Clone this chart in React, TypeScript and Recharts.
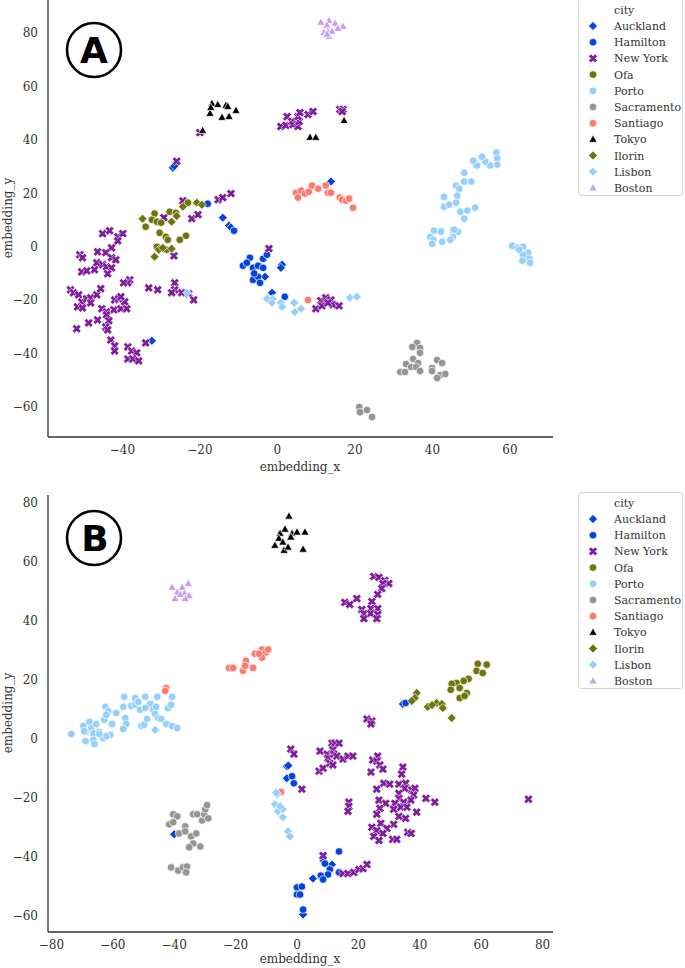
import React from 'react';
import { ScatterChart, Scatter, XAxis, YAxis } from 'recharts';

type P = [number, number];

// ---------------- Panel A data ----------------
const aucklandA: P[] = [[-27.0,29.6],[-26.6,30.2],[-14.1,10.9],[-12.5,7.9],[1.2,-6.7],[0.9,-7.9],[-1.4,-17.2],[-32.4,-35.2],[13.8,24.4],[-3.2,-11.2],[-12.0,7.2]];
const hamiltonA: P[] = [[-8.9,-7.1],[-7.1,-4.1],[-6.3,-7.9],[-5.0,-7.1],[-3.7,-7.9],[-3.7,-4.5],[-2.7,-3.0],[-6.3,-12.4],[-5.0,-11.2],[-4.5,-13.5],[-7.9,-6.0],[-11.2,6.0],[-18.0,16.1],[1.9,-18.7],[-6.0,-10.0]];
const newYorkA: P[] = [
  [0.9,45.0],[2.2,45.4],[2.5,48.7],[3.7,46.9],[4.0,45.7],[5.3,45.0],[5.6,46.9],[5.3,48.7],[5.8,50.2],[7.9,49.5],[9.2,50.6],[16.1,51.4],[16.9,51.4],[16.7,50.6],
  [-20.0,42.7],[-26.0,32.0],[-15.3,17.6],[-14.1,18.4],[-12.0,19.9],[-22.1,10.5],[-20.5,12.0],[-29.3,10.9],[-24.4,17.2],
  [-45.1,4.9],[-43.3,6.0],[-41.2,3.7],[-39.9,4.9],[-41.2,2.2],[-42.8,-0.4],[-46.4,-1.9],[-44.3,-2.2],[-51.0,-3.0],[-50.3,-4.1],[-42.8,-4.1],[-41.7,-4.9],[-46.6,-6.0],[-45.1,-6.7],[-44.1,-7.5],[-42.8,-7.9],[-47.2,-8.6],[-50.5,-9.4],[-49.2,-9.0],[-43.8,-10.1],
  [-53.4,-16.1],[-52.6,-17.2],[-51.3,-18.0],[-50.5,-20.6],[-49.2,-19.5],[-48.2,-19.1],[-48.2,-21.0],[-46.6,-18.0],[-45.6,-15.7],[-51.6,-22.5],[-50.3,-22.9],[-45.3,-23.2],[-44.1,-24.4],[-42.2,-23.6],[-40.4,-23.2],[-38.9,-23.2],[-44.1,-25.5],[-43.5,-27.7],[-42.0,-19.9],[-41.0,-19.5],[-39.4,-20.6],[-40.4,-18.7],[-38.1,-12.4],[-38.6,-13.5],[-39.7,-13.5],
  [-51.8,-30.7],[-48.7,-28.5],[-46.4,-27.4],[-44.3,-30.0],[-43.8,-31.1],[-43.0,-34.9],[-42.0,-37.1],[-42.0,-39.0],[-38.6,-37.5],[-37.6,-39.0],[-36.3,-39.7],[-38.6,-42.0],[-37.3,-42.0],[-35.8,-42.7],[-34.0,-36.0],
  [-33.2,-15.4],[-30.9,-16.1],[-26.5,-13.5],[-26.5,-16.1],[-27.3,-17.2],[-24.7,-17.2],[-22.9,-17.6],[-21.6,-19.9],[-26.7,-3.4],
  [-2.2,-0.7],
  [9.9,-23.2],[11.2,-20.2],[12.5,-19.1],[13.8,-19.9],[14.3,-21.7],[15.9,-22.1],[11.5,-22.1],[13.0,-21.0]
];
const ofaA: P[] = [[-31.7,12.4],[-27.8,13.1],[-26.2,12.7],[-34.0,7.5],[-32.4,10.1],[-31.1,9.4],[-30.4,5.2],[-28.8,3.7],[-23.1,16.5],[-23.6,4.1],[-28.3,2.6],[-25.2,2.6],[-31.1,0.0],[-28.6,-1.1],[-30.0,9.0]];
const portoA: P[] = [
  [56.5,35.3],[56.7,33.0],[56.7,30.7],[54.9,30.4],[53.6,31.9],[52.8,33.7],[51.0,31.5],[51.5,30.4],[50.5,32.2],[48.2,27.7],[48.2,24.4],[50.0,24.4],[46.1,22.9],[46.9,21.7],[46.4,19.1],[43.0,18.7],[43.0,15.0],[44.3,15.7],[46.1,16.5],[47.2,13.1],[49.0,13.5],[51.0,14.6],[48.2,10.5],
  [40.4,6.0],[42.2,6.0],[45.3,6.0],[46.6,5.6],[39.4,3.7],[40.2,2.6],[39.9,1.1],[42.2,5.6],[42.5,1.9],[45.3,3.7],[45.6,6.4],[44.6,2.6],
  [60.6,0.4],[61.9,-0.4],[63.4,0.0],[64.7,-2.2],[63.4,-3.0],[65.0,-4.5],[63.2,-5.2],[65.2,-6.0],[62.4,-1.1]
];
const sacramentoA: P[] = [[36.0,-36.0],[34.8,-37.5],[36.8,-37.9],[36.8,-39.7],[35.0,-42.0],[36.3,-43.5],[33.2,-43.9],[34.5,-45.0],[35.8,-45.0],[36.8,-46.5],[31.7,-46.9],[32.9,-46.9],[41.2,-42.4],[42.5,-43.5],[39.9,-45.4],[39.9,-46.5],[42.0,-48.0],[43.3,-47.6],[41.2,-49.1],[21.1,-60.0],[21.3,-61.9],[23.1,-61.1],[24.4,-63.7]];
const santiagoA: P[] = [[4.8,20.2],[5.3,18.4],[6.1,21.0],[7.1,19.9],[8.1,20.6],[8.9,22.9],[10.5,21.7],[12.5,22.9],[13.0,20.2],[13.8,20.2],[16.1,18.4],[16.7,17.6],[17.7,17.2],[18.5,18.0],[19.5,14.6],[7.9,-19.9]];
const tokyoA: P[] = [[-16.9,53.6],[-15.4,53.2],[-13.3,52.9],[-12.8,52.5],[-17.4,49.9],[-10.7,51.0],[-14.3,48.4],[-12.5,48.7],[-19.3,43.5],[-17.2,52.1],[8.4,40.9],[9.9,40.9],[17.2,47.2]];
const ilorinA: P[] = [[-34.8,10.5],[-27.3,9.4],[-24.4,15.0],[-20.8,16.5],[-19.5,15.7],[-27.3,-0.7],[-31.7,-3.7],[-30.6,-1.1],[-29.6,-0.4],[-26.0,11.5]];
const lisbonA: P[] = [[-2.7,-19.5],[-1.2,-19.5],[-1.4,-21.0],[0.9,-21.0],[1.2,-22.5],[4.3,-21.0],[4.5,-24.4],[6.1,-23.2],[18.7,-19.1],[20.5,-18.7],[-23.3,-17.2]];
const bostonA: P[] = [[11.2,84.0],[13.3,84.7],[14.9,83.6],[16.9,82.5],[15.6,81.7],[12.8,82.9],[12.0,80.2],[13.0,80.6],[14.1,80.6],[13.3,78.7],[12.8,79.5]];

// ---------------- Panel B data ----------------
const aucklandB: P[] = [[34.5,11.9],[-40.0,-32.3],[-3.3,-9.2],[-2.8,-9.0],[-3.3,-13.3],[11.4,-42.5],[5.2,-47.3],[2.0,-59.5]];
const hamiltonB: P[] = [[35.4,12.2],[-1.6,-12.6],[-1.0,-15.0],[13.7,-38.1],[8.5,-40.8],[9.1,-42.2],[10.7,-44.2],[13.7,-45.2],[10.1,-45.9],[7.8,-46.3],[8.5,-47.6],[0.0,-50.3],[1.6,-50.0],[0.0,-52.7],[1.0,-52.7],[2.0,-57.8]];
const newYorkB: P[] = [
  [25.0,55.1],[26.7,54.8],[28.6,53.7],[29.9,52.7],[28.0,52.7],[27.6,51.0],[26.3,49.0],[19.5,47.6],[15.6,46.3],[17.2,45.6],[24.4,46.6],[21.1,43.9],[24.1,44.2],[26.3,44.2],[21.8,42.5],[24.0,42.5],[26.3,42.2],[26.0,40.8],[21.8,40.8],
  [22.8,6.8],[24.4,6.1],[24.1,5.1],
  [-2.0,-3.4],[-1.0,-5.1],[1.6,-17.0],[7.5,-4.1],[7.2,-10.9],[8.5,-9.9],[9.8,-5.1],[10.1,-6.5],[10.7,-8.2],[11.7,-8.8],[11.4,-1.4],[12.4,-1.4],[13.7,-1.4],[11.7,-3.7],[12.0,-5.1],[13.0,-5.8],[15.0,-6.8],[16.6,-5.8],[18.2,-5.8],[16.9,-21.4],[16.9,-22.8],[16.6,-24.5],
  [24.7,-7.1],[26.3,-5.8],[26.0,-7.5],[27.0,-8.8],[28.0,-10.2],[24.1,-11.2],[34.5,-9.5],[34.1,-11.9],[28.3,-15.0],[30.2,-15.3],[26.0,-17.0],[33.2,-15.3],[35.4,-15.0],[35.1,-16.7],[37.4,-17.3],[38.4,-16.7],[33.2,-18.4],[38.0,-19.0],[33.2,-20.1],[26.7,-20.7],[28.9,-21.8],[31.9,-21.8],[34.8,-21.4],[37.1,-20.7],[42.0,-20.1],[44.9,-21.4],
  [27.0,-23.5],[31.5,-23.8],[33.8,-23.1],[35.8,-23.1],[39.0,-24.8],[26.0,-25.5],[33.2,-26.2],[35.4,-26.9],[27.3,-28.6],[31.5,-28.9],[24.4,-29.9],[26.0,-31.0],[29.3,-30.3],[28.0,-32.0],[25.0,-33.0],[26.7,-34.4],[31.2,-34.0],[32.5,-34.0],[36.1,-31.6],[37.2,-32.0],
  [75.4,-20.4],
  [8.5,-39.5],[15.0,-45.6],[16.6,-45.6],[18.5,-45.2],[20.2,-44.2],[21.5,-43.9],[22.8,-42.5]
];
const ofaB: P[] = [[58.9,25.5],[61.8,25.2],[58.5,23.1],[60.5,22.4],[55.9,20.4],[54.3,19.7],[52.0,19.0],[50.4,18.7],[50.1,16.7],[53.0,17.3],[55.3,15.6],[53.0,13.9],[54.6,14.6]];
const portoB: P[] = [
  [-73.5,1.7],[-69.6,4.4],[-68.9,2.4],[-68.9,-0.7],[-67.6,5.8],[-67.0,3.7],[-66.3,2.0],[-66.3,-0.3],[-65.7,-1.7],[-65.4,5.1],[-64.4,2.4],[-63.1,0.3],[-60.8,1.4],[-62.8,6.5],[-62.4,10.9],[-61.5,9.5],[-62.1,8.2],[-60.5,5.1],[-58.9,8.8],[-56.6,10.9],[-56.3,14.3],[-55.9,7.1],[-55.6,5.1],[-56.6,3.4],
  [-54.0,11.2],[-52.7,13.9],[-52.7,11.6],[-51.7,12.6],[-49.4,14.3],[-51.1,9.9],[-47.8,11.9],[-49.4,10.5],[-50.7,4.4],[-49.8,4.8],[-48.8,6.8],[-46.8,9.9],[-46.2,8.5],[-45.9,10.9],[-45.5,14.3],[-45.2,7.1],[-44.2,6.8],[-42.6,5.1],[-42.0,10.5],[-41.0,11.6],[-40.7,14.3],[-40.7,4.4],[-39.0,3.7],
  [-69.3,2.7],[-66.0,-1.7],[-64.4,1.7],[-62.1,1.0],[-60.2,5.1]
];
const sacramentoB: P[] = [[-40.3,-25.5],[-39.0,-26.2],[-41.6,-28.9],[-40.3,-28.2],[-36.4,-29.6],[-38.4,-32.0],[-36.4,-31.3],[-34.5,-33.0],[-33.8,-35.4],[-35.1,-36.7],[-32.8,-32.0],[-33.8,-25.5],[-32.5,-25.5],[-30.9,-27.6],[-30.2,-25.5],[-29.9,-23.8],[-29.3,-22.4],[-28.9,-26.9],[-31.5,-36.4],[-41.0,-43.5],[-38.7,-44.6],[-37.1,-43.5],[-35.8,-43.2],[-36.1,-45.2]];
const santiagoB: P[] = [[-22.1,24.1],[-20.8,24.1],[-17.6,23.1],[-16.6,26.5],[-16.9,24.8],[-14.3,24.1],[-13.7,28.9],[-11.4,30.3],[-10.1,29.3],[-11.4,27.6],[-9.4,30.3],[-12.4,28.9],[-42.6,17.3],[-42.9,16.3],[-5.2,-18.0]];
const tokyoB: P[] = [[-2.6,75.5],[-5.5,69.7],[-3.9,71.1],[-1.6,69.7],[0.0,70.1],[2.6,70.1],[-5.9,68.0],[-4.6,66.7],[-2.0,68.4],[-7.2,65.6],[-4.2,63.9],[-2.9,65.0],[2.0,64.3]];
const ilorinB: P[] = [[39.0,15.6],[38.4,13.9],[37.4,12.9],[42.6,10.9],[45.5,12.2],[47.2,11.9],[47.5,10.5],[50.4,7.1],[44.0,11.5]];
const lisbonB: P[] = [[-46.2,3.1],[-6.5,-18.7],[-7.2,-22.1],[-6.2,-24.5],[-4.6,-23.8],[-4.6,-26.5],[-2.9,-31.3],[-2.3,-33.0],[-5.5,-22.8],[-6.8,-18.2]];
const bostonB: P[] = [[-40.7,51.4],[-37.4,51.4],[-35.4,52.7],[-39.0,49.7],[-36.7,49.3],[-35.1,48.6],[-39.7,47.6],[-36.4,47.6],[-38.0,49.0]];

// ---------------- Categories & ticks ----------------
const cityNames = ['Auckland','Hamilton','New York','Ofa','Porto','Sacramento','Santiago','Tokyo','Ilorin','Lisbon','Boston'];
const cityColors = ['#0343df','#0343df','#7e1e9c','#6e750e','#95d0fc','#929591','#ff796c','#000000','#6e750e','#95d0fc','#c79fef'];
const cityMarkers = ['diamond','circle','x','circle','circle','circle','circle','triangle','diamond','diamond','triangle'];
const panelAData: P[][] = [aucklandA,hamiltonA,newYorkA,ofaA,portoA,sacramentoA,santiagoA,tokyoA,ilorinA,lisbonA,bostonA];
const panelBData: P[][] = [aucklandB,hamiltonB,newYorkB,ofaB,portoB,sacramentoB,santiagoB,tokyoB,ilorinB,lisbonB,bostonB];

const xTicksA = [-40,-20,0,20,40,60];
const yTicksA = [-60,-40,-20,0,20,40,60,80];
const xTicksB = [-80,-60,-40,-20,0,20,40,60,80];
const yTicksB = [-60,-40,-20,0,20,40,60,80];

const FONT = '"DejaVu Serif", serif';
const TEXT = '#333333';
const AXIS = '#333333';

function markerEl(kind: string, cx: number, cy: number, color: string, key?: any) {
  const sw = 0.7;
  if (kind === 'circle') {
    return <circle key={key} cx={cx} cy={cy} r={3.8} fill={color} stroke="#fff" strokeWidth={sw} />;
  }
  if (kind === 'diamond') {
    const s = 4.5;
    return <polygon key={key} points={`${cx},${cy - s} ${cx + s},${cy} ${cx},${cy + s} ${cx - s},${cy}`} fill={color} stroke="#fff" strokeWidth={sw} />;
  }
  if (kind === 'triangle') {
    return <polygon key={key} points={`${cx},${cy - 4.4} ${cx + 4.1},${cy + 2.9} ${cx - 4.1},${cy + 2.9}`} fill={color} stroke="#fff" strokeWidth={sw} />;
  }
  const s = 4.6, w = 1.65;
  const pts: P[] = [[-w,-s],[w,-s],[w,-w],[s,-w],[s,w],[w,w],[w,s],[-w,s],[-w,w],[-s,w],[-s,-w],[-w,-w]];
  const r = Math.SQRT1_2;
  const str = pts.map(([x, y]) => `${cx + (x - y) * r},${cy + (x + y) * r}`).join(' ');
  return <polygon key={key} points={str} fill={color} stroke="#fff" strokeWidth={0.6} />;
}

const fmt = (v: number) => String(v).replace('-', '\u2212');

function Panel(props: { data: P[][]; xDomain: [number, number]; yDomain: [number, number]; xTicks: number[]; yTicks: number[]; height: number; top: number; xAxisH: number }) {
  const { data, xDomain, yDomain, xTicks, yTicks, height, top, xAxisH } = props;
  return (
    <ScatterChart width={685} height={height} margin={{ top, right: 132, bottom: 0, left: 0 }}>
      <XAxis type="number" dataKey="x" domain={xDomain} ticks={xTicks} allowDataOverflow height={xAxisH}
        tickFormatter={fmt} tickLine={false} tickMargin={2}
        axisLine={{ stroke: AXIS, strokeWidth: 1.3 }}
        tick={{ fontFamily: FONT, fontSize: 12, fill: TEXT }} />
      <YAxis type="number" dataKey="y" domain={yDomain} ticks={yTicks} allowDataOverflow width={48}
        tickFormatter={fmt} tickLine={false} tickMargin={4}
        axisLine={{ stroke: AXIS, strokeWidth: 1.3 }}
        tick={{ fontFamily: FONT, fontSize: 12, fill: TEXT }} />
      {data.map((pts, i) => (
        <Scatter key={cityNames[i]} name={cityNames[i]} data={pts.map(([x, y]) => ({ x, y }))}
          isAnimationActive={false}
          shape={(p: any) => markerEl(cityMarkers[i], p.cx, p.cy, cityColors[i])} />
      ))}
    </ScatterChart>
  );
}

function LegendBox(props: { top: number }) {
  const rowH = 16.2;
  return (
    <div style={{ position: 'absolute', left: 578, top: props.top, width: 105, height: 197, border: '1px solid #d6d6d6', borderRadius: 3, background: '#fff', boxSizing: 'border-box' }}>
      <svg width={105} height={197} style={{ position: 'absolute', left: 0, top: 0 }}>
        <text x={35} y={14} fontFamily={FONT} fontSize={11} fill={TEXT}>city</text>
        {cityNames.map((n, i) => (
          <g key={n}>
            {markerEl(cityMarkers[i], 14, 26 + rowH * i, cityColors[i])}
            <text x={35} y={30 + rowH * i} fontFamily={FONT} fontSize={11} fill={TEXT}>{n}</text>
          </g>
        ))}
      </svg>
    </div>
  );
}

export default function App() {
  return (
    <div style={{ position: 'absolute', left: 0, top: 0, width: 685, height: 968, background: '#fff', overflow: 'hidden' }}>
      <div style={{ position: 'absolute', left: 0, top: 0 }}>
        <Panel data={panelAData} xDomain={[-59.2, 71.1]} yDomain={[-71.2, 92.35]} xTicks={xTicksA} yTicks={yTicksA} height={485} top={0} xAxisH={48} />
      </div>
      <div style={{ position: 'absolute', left: 0, top: 490 }}>
        <Panel data={panelBData} xDomain={[-81.1, 83.4]} yDomain={[-65.4, 82.7]} xTicks={xTicksB} yTicks={yTicksB} height={478} top={5} xAxisH={36} />
      </div>
      <svg width={685} height={968} style={{ position: 'absolute', left: 0, top: 0, pointerEvents: 'none' }}>
        <text x={300} y={471} textAnchor="middle" fontFamily={FONT} fontSize={12} fill={TEXT}>embedding_x</text>
        <text x={300} y={963} textAnchor="middle" fontFamily={FONT} fontSize={12} fill={TEXT}>embedding_x</text>
        <text transform="translate(12,218) rotate(-90)" textAnchor="middle" fontFamily={FONT} fontSize={12} fill={TEXT}>embedding_y</text>
        <text transform="translate(12,713) rotate(-90)" textAnchor="middle" fontFamily={FONT} fontSize={12} fill={TEXT}>embedding_y</text>
        <circle cx={94} cy={50} r={27} fill="none" stroke="#000" strokeWidth={2.6} />
        <text x={94} y={63} textAnchor="middle" fontFamily='"DejaVu Sans", sans-serif' fontWeight="bold" fontSize={36} fill="#000">A</text>
        <circle cx={94} cy={538} r={27} fill="none" stroke="#000" strokeWidth={2.6} />
        <text x={95} y={551} textAnchor="middle" fontFamily='"DejaVu Sans", sans-serif' fontWeight="bold" fontSize={36} fill="#000">B</text>
      </svg>
      <LegendBox top={-1} />
      <LegendBox top={492} />
    </div>
  );
}
